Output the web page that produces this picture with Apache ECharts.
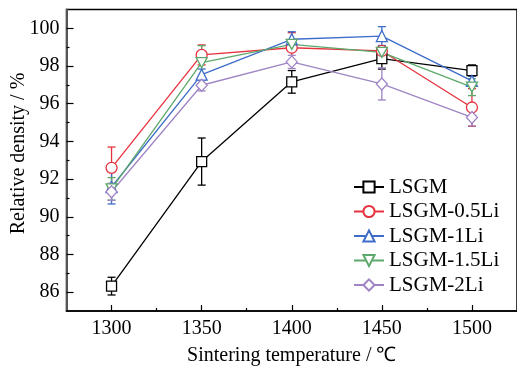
<!DOCTYPE html>
<html><head><meta charset="utf-8">
<script src="https://cdn.jsdelivr.net/npm/echarts@6/dist/echarts.min.js"></script>
<style>html,body{margin:0;padding:0;background:#fff}#c{width:517px;height:371px}</style>
</head><body><div id="c"></div>
<script>
const temps = [1300, 1350, 1400, 1450, 1500];
const seriesNames = ['LSGM', 'LSGM-0.5Li', 'LSGM-1Li', 'LSGM-1.5Li', 'LSGM-2Li'];
const lsgm = [86.32, 92.93, 97.16, 98.39, 97.76];
const lsgmErr = [0.47, 1.25, 0.6, 0.55, 0.3];
const li05 = [92.6, 98.59, 98.97, 98.8, 95.8];
const li05Err = [1.1, 0.53, 0.8, 0.15, 1.0];
const li1 = [91.58, 97.54, 99.42, 99.59, 97.21];
const li1Err = [0.9, 0.3, 0.4, 0.5, 0.25];
const li15 = [91.48, 98.18, 99.15, 98.73, 96.88];
const li15Err = [0.6, 0.9, 0.2, 0.2, 0.45];
const li2 = [91.33, 96.98, 98.22, 97.05, 95.27];
const li2Err = [0.45, 0.3, 0.35, 0.85, 0.45];
const yMajorTicks = [86, 88, 90, 92, 94, 96, 98, 100];
const yMinorTicks = [87, 89, 91, 93, 95, 97, 99];
const xMajorTicks = [1300, 1350, 1400, 1450, 1500];
const xMinorTicks = [1325, 1375, 1425, 1475];
const xTitle = 'Sintering temperature / ℃';
const yTitle = 'Relative density / %';

const values = [lsgm, li05, li1, li15, li2];
const errors = [lsgmErr, li05Err, li1Err, li15Err, li2Err];
const colors = ['#000000', '#e6323e', '#3d6cc9', '#5da86c', '#9f84c4'];
const symbols = ['rect', 'circle', 'triangle', 'path://M0,0 L10,0 L5,9 Z', 'diamond'];
const sizes = [10, 11, 11, [11, 10], [11, 12]];
const FONT = 'Liberation Serif';

const series = [];
values.forEach((vals, i) => {
  series.push({
    type: 'custom', name: seriesNames[i] + ' err', xAxisIndex: 0, yAxisIndex: 0,
    silent: true, z: 3,
    data: temps.map((t, k) => [t, vals[k] - errors[i][k], vals[k] + errors[i][k]]),
    encode: { x: 0, y: [1, 2] },
    renderItem: function (params, api) {
      const lo = api.coord([api.value(0), api.value(1)]);
      const hi = api.coord([api.value(0), api.value(2)]);
      const w = 4;
      const st = { stroke: colors[i], lineWidth: 1.3 };
      return { type: 'group', children: [
        { type: 'line', shape: { x1: lo[0], y1: lo[1], x2: hi[0], y2: hi[1] }, style: st },
        { type: 'line', shape: { x1: lo[0] - w, y1: lo[1], x2: lo[0] + w, y2: lo[1] }, style: st },
        { type: 'line', shape: { x1: hi[0] - w, y1: hi[1], x2: hi[0] + w, y2: hi[1] }, style: st }
      ]};
    }
  });
});
values.forEach((vals, i) => {
  series.push({
    type: 'line', name: seriesNames[i], xAxisIndex: 0, yAxisIndex: 0, z: 4,
    data: temps.map((t, k) => [t, vals[k]]),
    symbol: symbols[i], symbolSize: sizes[i],
    itemStyle: { color: '#fff', borderColor: colors[i], borderWidth: 1.3 },
    lineStyle: { color: colors[i], width: 1.3 },
    color: colors[i],
    emphasis: { disabled: true }
  });
});

const chart = echarts.init(document.getElementById('c'), null, { renderer: 'canvas' });
const baseX = { type: 'value', min: 1275, max: 1525, position: 'bottom' };
const baseY = { type: 'value', min: 85, max: 101, position: 'left' };
chart.setOption({
  animation: false,
  backgroundColor: '#fff',
  grid: { left: 66.5, top: 9.5, right: -4, bottom: 59, show: true, borderColor: '#000', borderWidth: 1.5, backgroundColor: 'transparent' },
  legend: {
    orient: 'vertical', left: 353, top: 176.5, padding: 0, itemWidth: 30, itemHeight: 14, itemGap: 3.5,
    data: seriesNames,
    textStyle: { fontFamily: FONT, fontSize: 21, color: '#000', padding: [0, 0, 0, 0] }
  },
  graphic: [{
    type: 'text', x: 19, y: 153.5, rotation: Math.PI / 2,
    style: { text: yTitle, fontFamily: FONT, fontSize: 20, fill: '#000', align: 'center', verticalAlign: 'middle' }
  }],
  xAxis: [
    Object.assign({}, baseX, {
      name: xTitle, nameLocation: 'middle', nameGap: 35,
      nameTextStyle: { fontFamily: FONT, fontSize: 20, color: '#000' },
      axisLine: { show: true, onZero: false, lineStyle: { color: '#000', width: 1.5 } },
      axisTick: { show: true, inside: true, length: 6, customValues: xMajorTicks, lineStyle: { color: '#000', width: 1.2 } },
      axisLabel: { customValues: xMajorTicks, margin: 8, fontFamily: FONT, fontSize: 20, color: '#000', formatter: v => String(v) },
      splitLine: { show: false }
    }),
    Object.assign({}, baseX, {
      axisLine: { show: false },
      axisTick: { show: true, inside: true, length: 3, customValues: xMinorTicks, lineStyle: { color: '#000', width: 1.2 } },
      axisLabel: { show: false }, splitLine: { show: false }
    })
  ],
  yAxis: [
    Object.assign({}, baseY, {
      axisLine: { show: true, onZero: false, lineStyle: { color: '#555', width: 2 } },
      axisTick: { show: true, inside: true, length: 7, customValues: yMajorTicks, lineStyle: { color: '#000', width: 1.2 } },
      axisLabel: { customValues: yMajorTicks, margin: 7, fontFamily: FONT, fontSize: 20, color: '#000', formatter: v => String(v) },
      splitLine: { show: false }
    }),
    Object.assign({}, baseY, {
      axisLine: { show: false },
      axisTick: { show: true, inside: true, length: 3, customValues: yMinorTicks, lineStyle: { color: '#000', width: 1.2 } },
      axisLabel: { show: false }, splitLine: { show: false }
    })
  ],
  series: series
});
</script></body></html>
